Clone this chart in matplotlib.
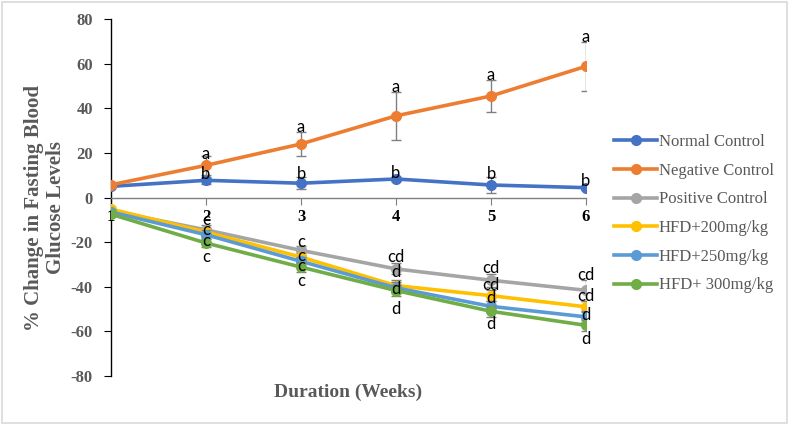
import matplotlib
matplotlib.use("Agg")
import matplotlib.pyplot as plt
from matplotlib.patches import Rectangle
from matplotlib.lines import Line2D

plt.rcParams["axes.unicode_minus"] = False

weeks = [1, 2, 3, 4, 5, 6]
series_names = ["Normal Control", "Negative Control", "Positive Control",
                "HFD+200mg/kg", "HFD+250mg/kg", "HFD+ 300mg/kg"]
normal = [5.0, 7.7, 6.4, 8.3, 5.6, 4.4]
negative = [5.7, 14.4, 24.0, 36.6, 45.5, 58.8]
positive = [-6.0, -14.5, -23.7, -32.0, -37.1, -41.6]
hfd200 = [-5.2, -15.5, -26.7, -39.5, -44.0, -49.0]
hfd250 = [-6.5, -16.7, -28.6, -40.5, -48.8, -53.5]
hfd300 = [-7.5, -20.4, -31.2, -41.7, -51.0, -57.3]

err_normal = [0.5, 1.5, 2.8, 1.0, 3.4, 1.0]
err_negative = [0.5, 4.2, 5.5, 10.7, 7.3, 11.0]
err_positive = [0.5, 2.0, 2.0, 2.5, 3.0, 4.8]
err_hfd200 = [0.5, 2.0, 2.0, 2.5, 2.5, 2.5]
err_hfd250 = [0.5, 2.0, 2.0, 2.5, 2.5, 2.5]
err_hfd300 = [0.5, 2.0, 2.0, 2.5, 2.5, 2.5]

colors = ["#4472C4", "#ED7D31", "#A5A5A5", "#FFC000", "#5B9BD5", "#70AD47"]

# significance letters (week, text, y-position of label)
letters_top = [
    (2, "a", 19.5), (3, "a", 31.5), (4, "a", 49.5), (5, "a", 55.0), (6, "a", 72.0),
    (2, "b", 10.5), (3, "b", 10.5), (4, "b", 10.8), (5, "b", 10.5), (6, "b", 7.5),
]
letters_bottom = [
    (2, "c", -10.0), (2, "c", -14.5), (2, "c", -19.5), (2, "c", -26.5),
    (3, "c", -20.0), (3, "c", -26.0), (3, "c", -30.6), (3, "c", -37.3),
    (4, "cd", -26.6), (4, "d", -33.4), (4, "d", -41.0), (4, "d", -50.0),
    (5, "cd", -31.6), (5, "cd", -39.0), (5, "d", -45.0), (5, "d", -56.6),
    (6, "cd", -34.6), (6, "cd", -44.3), (6, "d", -52.5), (6, "d", -63.3),
]

fig = plt.figure(figsize=(7.88, 4.24), dpi=100)
ax = fig.add_axes([111/788, 1 - 376/424, (586 - 111)/788, (376 - 19)/424])

data = [normal, negative, positive, hfd200, hfd250, hfd300]
errs = [err_normal, err_negative, err_positive, err_hfd200, err_hfd250, err_hfd300]
order = [2, 3, 4, 5, 0, 1]
for i in order:
    ax.errorbar(weeks, data[i], yerr=errs[i], color=colors[i], ecolor="#808080",
                elinewidth=1.0, capsize=3.5, capthick=1.0, lw=2.6, marker="o",
                markersize=7, zorder=3 + i * 0.1)

serif = "Liberation Serif"
for (w, t, y) in letters_top + letters_bottom:
    ax.text(w, y, t, ha="center", va="center", fontsize=12, family="Lato",
            color="black", zorder=10)

ax.set_xlim(1, 6)
ax.set_ylim(-80, 80)
ax.set_yticks(range(-80, 81, 20))
ax.set_xticks(weeks)
ax.set_xticklabels([str(w) for w in weeks])

ax.spines["top"].set_visible(False)
ax.spines["right"].set_visible(False)
ax.spines["bottom"].set_position(("data", 0))
ax.spines["bottom"].set_color("#7F7F7F")
ax.spines["bottom"].set_linewidth(1.0)
ax.spines["left"].set_color("black")
ax.spines["left"].set_linewidth(1.0)
ax.tick_params(axis="x", direction="out", length=5, color="#7F7F7F", pad=3,
               labelsize=12, labelcolor="black")
ax.tick_params(axis="y", direction="out", length=5, color="black", pad=8,
               labelsize=12, labelcolor="#595959")
for lab in ax.get_xticklabels() + ax.get_yticklabels():
    lab.set_fontfamily(serif)
    lab.set_fontweight("bold")

fig.text(348/788, 1 - 392/424, "Duration (Weeks)", ha="center", va="center",
         fontsize=14, family=serif, fontweight="bold", color="#595959")
fig.text(45/788, 1 - 208/424, "% Change in Fasting Blood\nGlucose Levels",
         ha="center", va="center", rotation=90, fontsize=15, family=serif,
         fontweight="bold", color="#595959", linespacing=1.15)

handles = [Line2D([0], [0], color=c, lw=2.6, marker="o", markersize=7)
           for c in colors]
leg = fig.legend(handles, series_names,
                 loc="upper left", bbox_to_anchor=(614/788, 1 - 134/424),
                 frameon=False, prop={"family": serif, "size": 12},
                 handlelength=2.6, handletextpad=0.1, labelspacing=0.76,
                 borderaxespad=0, borderpad=0)
for t in leg.get_texts():
    t.set_color("#595959")

fig.patches.append(Rectangle((1.5/788, 1.5/424), 785/788, 421/424,
                             transform=fig.transFigure, fill=False,
                             edgecolor="#D9D9D9", lw=1.2))

fig.savefig("out.png", dpi=100)
